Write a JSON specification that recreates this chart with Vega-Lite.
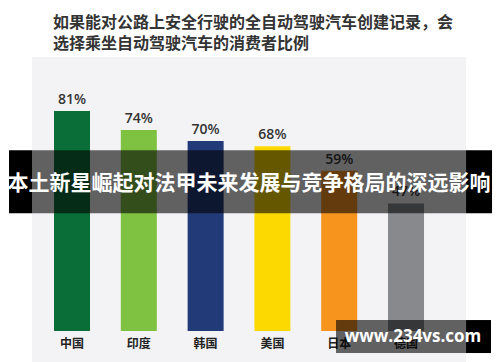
{
  "$schema": "https://vega.github.io/schema/vega-lite/v6.json",
  "width": 434,
  "height": 305,
  "autosize": {"type": "none"},
  "padding": {"left": 32, "right": 34, "top": 57, "bottom": 0},
  "background": "#ffffff",
  "title": {
    "text": ["如果能对公路上安全行驶的全自动驾驶汽车创建记录，会", "选择乘坐自动驾驶汽车的消费者比例"],
    "anchor": "start",
    "frame": "group",
    "dx": 21,
    "offset": 5,
    "fontSize": 16,
    "lineHeight": 21,
    "font": "Noto Sans CJK SC",
    "fontWeight": "bold",
    "color": "#333333"
  },
  "config": {"view": {"fill": "#f3f3f5", "stroke": null}},
  "data": {
    "values": [
      {"country": "中国", "value": 81, "label": "81%"},
      {"country": "印度", "value": 74, "label": "74%"},
      {"country": "韩国", "value": 70, "label": "70%"},
      {"country": "美国", "value": 68, "label": "68%"},
      {"country": "日本", "value": 59, "label": "59%"},
      {"country": "德国", "value": 47, "label": "47%"}
    ]
  },
  "layer": [
    {
      "mark": {"type": "bar"},
      "encoding": {
        "x": {
          "field": "country",
          "type": "nominal",
          "scale": {
            "domain": ["中国", "印度", "韩国", "美国", "日本", "德国"],
            "paddingInner": 0.461,
            "paddingOuter": 0.479,
            "align": 0.344
          },
          "axis": null
        },
        "y": {
          "field": "value",
          "type": "quantitative",
          "scale": {"domain": [-11.4, 100.9], "nice": false, "zero": false},
          "axis": null
        },
        "color": {
          "field": "country",
          "type": "nominal",
          "scale": {
            "domain": ["中国", "印度", "韩国", "美国", "日本", "德国"],
            "range": ["#0a6e38", "#7fc241", "#223a77", "#fcd900", "#f7941e", "#88898d"]
          },
          "legend": null
        }
      }
    },
    {
      "mark": {"type": "text", "baseline": "bottom", "dy": -4, "fontSize": 14, "fontWeight": 600, "font": "Open Sans", "color": "#333333"},
      "encoding": {
        "x": {"field": "country", "type": "nominal"},
        "y": {"field": "value", "type": "quantitative"},
        "text": {"field": "label"}
      }
    },
    {
      "mark": {"type": "text", "baseline": "middle", "fontSize": 12, "fontWeight": "bold", "font": "Noto Sans CJK SC", "color": "#222222"},
      "encoding": {
        "x": {"field": "country", "type": "nominal"},
        "y": {"datum": -4.6},
        "text": {"field": "country"}
      }
    },
    {
      "data": {"values": [{}]},
      "mark": {"type": "rect", "color": "#000000", "opacity": 0.6},
      "encoding": {"y": {"datum": 66.6}, "y2": {"datum": 43.4}}
    },
    {
      "data": {"values": [{}]},
      "mark": {"type": "rect", "color": "#000000"},
      "encoding": {
        "x": {"datum": "中国", "bandPosition": -1.25},
        "x2": {"datum": "中国", "bandPosition": -0.611},
        "y": {"datum": 66.6},
        "y2": {"datum": 43.4}
      }
    },
    {
      "data": {"values": [{}]},
      "mark": {"type": "rect", "color": "#000000"},
      "encoding": {
        "x": {"datum": "德国", "bandPosition": 2.167},
        "x2": {"datum": "德国", "bandPosition": 2.889},
        "y": {"datum": 66.6},
        "y2": {"datum": 43.4}
      }
    },
    {
      "data": {"values": [{}]},
      "mark": {"type": "text", "text": "本土新星崛起对法甲未来发展与竞争格局的深远影响", "fontSize": 21, "fontWeight": "bold", "font": "Noto Sans CJK SC", "color": "#ffffff", "baseline": "middle", "align": "center"},
      "encoding": {"y": {"datum": 54.1}}
    },
    {
      "data": {"values": [{}]},
      "mark": {"type": "rect", "color": "#000000", "opacity": 0.6},
      "encoding": {
        "x": {"datum": "德国", "bandPosition": -1.444},
        "x2": {"datum": "德国", "bandPosition": 2.167},
        "y": {"datum": 4.05},
        "y2": {"datum": -8.1}
      }
    },
    {
      "data": {"values": [{}]},
      "mark": {"type": "rect", "color": "#000000"},
      "encoding": {
        "x": {"datum": "德国", "bandPosition": 2.167},
        "x2": {"datum": "德国", "bandPosition": 2.861},
        "y": {"datum": 4.05},
        "y2": {"datum": -8.1}
      }
    },
    {
      "data": {"values": [{}]},
      "mark": {"type": "text", "text": "www.234vs.com", "fontSize": 17, "fontWeight": "bold", "font": "Open Sans", "color": "#ffffff", "baseline": "middle", "align": "center"},
      "encoding": {
        "x": {"datum": "德国", "bandPosition": 0.694},
        "y": {"datum": -2.2}
      }
    }
  ]
}
